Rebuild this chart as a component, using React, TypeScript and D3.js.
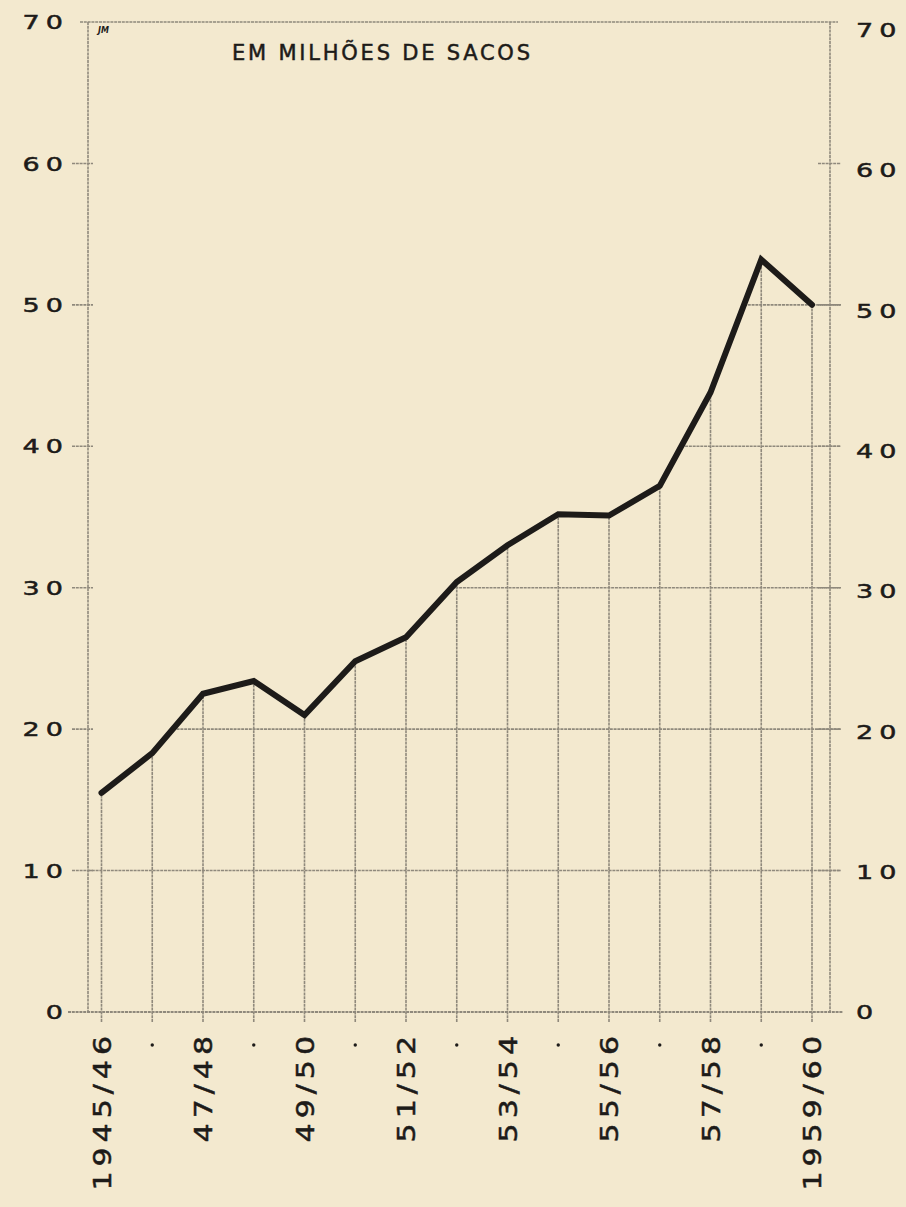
import React from "react";
import * as d3 from "d3";

const categories = ["1945/46","46/47","47/48","48/49","49/50","50/51","51/52","52/53","53/54","54/55","55/56","56/57","57/58","58/59","1959/60"];
const tickLabels = ["1945/46","","47/48","","49/50","","51/52","","53/54","","55/56","","57/58","","1959/60"];
const production = [15.5,18.3,22.5,23.4,21.0,24.8,26.5,30.4,33.0,35.2,35.1,37.2,43.8,53.2,50.0];
const yTicks = [0,10,20,30,40,50,60,70];
const title = "EM MILHÕES DE SACOS";
const signature = "JM";

const W = 906, H = 1207;
const frameL = 88, frameR = 830;
const BG = "#f3e9cf";
const GRID = "#8f897c";
const INK = "#1d1b19";
const FONT = "'DejaVu Sans', Verdana, sans-serif";

export default function App() {
  const x = d3.scalePoint<string>().domain(categories).range([101.5, 812]);
  const y = d3.scaleLinear().domain([0, 70]).range([1012, 22]);

  const line = d3.line<number>()
    .x((_, i) => x(categories[i]) as number)
    .y((d) => y(d));

  const crossX = (v: number) => {
    for (let i = 0; i < production.length; i++) {
      if (production[i] >= v) {
        if (i === 0) return frameL;
        const a = production[i - 1], b = production[i];
        const xa = x(categories[i - 1]) as number, xb = x(categories[i]) as number;
        return xa + ((v - a) / (b - a)) * (xb - xa);
      }
    }
    return frameR;
  };

  const hatch = { stroke: GRID, strokeWidth: 1.6, strokeDasharray: "3 0.8", fill: "none" } as const;
  const txt = { fontFamily: FONT, fill: INK, stroke: INK, strokeWidth: 0.5 } as const;
  const ySX = 1.35, yLS = 4.5;
  const xSX = 1.25, xLS = 4;

  return (
    <svg width={W} height={H} style={{ position: "absolute", left: 0, top: 0, background: BG }}>
      <rect x={0} y={0} width={W} height={H} fill={BG} />
      {/* frame */}
      <line x1={frameL} x2={frameL} y1={y(70)} y2={y(0)} {...hatch} />
      <line x1={frameR} x2={frameR} y1={y(70)} y2={y(0)} {...hatch} />
      <line x1={80} x2={838} y1={y(70)} y2={y(70)} {...hatch} />
      <line x1={68} x2={843} y1={y(0)} y2={y(0)} {...hatch} strokeWidth={2} />
      {/* horizontal grid below curve + stubs */}
      {yTicks.filter((t) => t > 0 && t < 70).map((t) => {
        const sx = crossX(t);
        return (
          <g key={"g" + t}>
            <line x1={72} x2={93} y1={y(t)} y2={y(t)} {...hatch} />
            {sx < frameR && <line x1={sx} x2={841} y1={y(t)} y2={y(t)} {...hatch} />}
            <line x1={818} x2={841} y1={y(t)} y2={y(t)} {...hatch} />
          </g>
        );
      })}
      {/* verticals under curve */}
      {production.map((v, i) => (
        <line key={"v" + i} x1={x(categories[i])} x2={x(categories[i])} y1={y(0) + 10} y2={y(v)} {...hatch} />
      ))}
      {/* data line */}
      <path d={line(production) || ""} fill="none" stroke={INK} strokeWidth={6} strokeLinejoin="miter" strokeLinecap="round" />
      {/* y labels */}
      {yTicks.map((t) => {
        const s = String(t);
        return (
          <g key={"yl" + t}>
            <text transform={`translate(${63 + yLS * ySX},${y(t)}) scale(${ySX},1)`} dy="0.36em" textAnchor="end" fontSize={20} letterSpacing={yLS} {...txt}>{s}</text>
            <text transform={`translate(856,${y(t) + (t / 70) * 8}) scale(${ySX},1)`} dy="0.36em" textAnchor="start" fontSize={20} letterSpacing={yLS} {...txt}>{s}</text>
          </g>
        );
      })}
      {/* x labels */}
      {tickLabels.map((l, i) => {
        const cx = x(categories[i]) as number;
        return l ? (
          <text key={"xl" + i} transform={`translate(${cx + 9},${1036 - xLS * xSX}) rotate(-90) scale(${xSX},1)`} textAnchor="end" fontSize={24} letterSpacing={xLS} {...txt}>{l}</text>
        ) : (
          <circle key={"xd" + i} cx={cx} cy={1045} r={1.7} fill={INK} />
        );
      })}
      {/* title */}
      <text x={232} y={60} textAnchor="start" fontSize={21} textLength={298} lengthAdjust="spacing" {...txt}>{title}</text>
      <text x={98} y={33} fontFamily={FONT} fontSize={8} fontStyle="italic" fontWeight="bold" fill={INK}>{signature}</text>
    </svg>
  );
}
